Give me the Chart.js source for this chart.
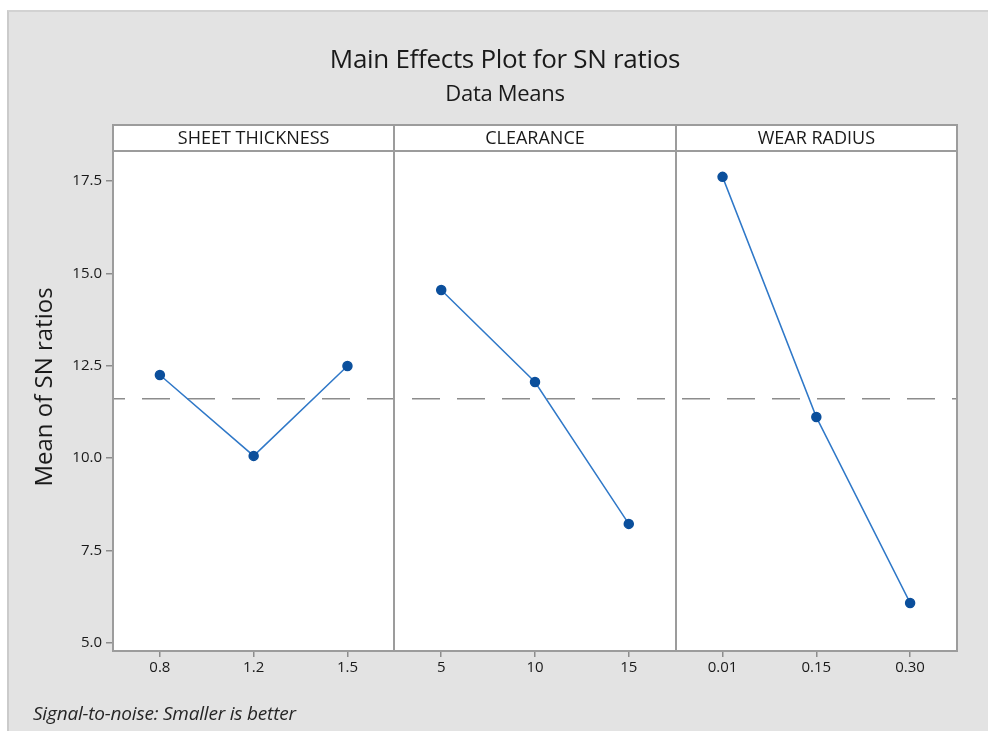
<!DOCTYPE html>
<html>
<head>
<meta charset="utf-8">
<script src="https://cdn.jsdelivr.net/npm/chart.js@4.4.1/dist/chart.umd.min.js"></script>
<style>
  body { margin: 0; background: #fff; width: 988px; height: 731px; overflow: hidden; font-family: "Open Sans", sans-serif; }
  #fondo { position: absolute; left: 7px; top: 10px; width: 981px; height: 721px; background: #e3e3e3; border-left: 2px solid #cbcbcb; border-top: 2px solid #d2d2d2; box-sizing: border-box; }
  #grafico { position: absolute; left: 0; top: 0; }
  .texto { position: absolute; color: #1a1a1a; white-space: nowrap; }
  #titulo { left: 0; width: 1010px; text-align: center; top: 40px; font-size: 26px; letter-spacing: -0.3px; }
  #subtitulo { left: 0; width: 1010px; text-align: center; top: 77px; font-size: 22px; letter-spacing: -0.3px; }
  #rodape { left: 33px; top: 700px; font-size: 19px; font-style: italic; color: #262626; letter-spacing: -0.2px; }
</style>
</head>
<body>
<div id="fondo"></div>
<canvas id="grafico" width="988" height="731"></canvas>
<div class="texto" id="titulo">Main Effects Plot for SN ratios</div>
<div class="texto" id="subtitulo">Data Means</div>
<div class="texto" id="rodape">Signal-to-noise: Smaller is better</div>
<script>
// fatores e niveis
const fatores = ["SHEET THICKNESS", "CLEARANCE", "WEAR RADIUS"];
const niveisEspessura = ["0.8", "1.2", "1.5"];
const niveisFolga = ["5", "10", "15"];
const niveisRaio = ["0.01", "0.15", "0.30"];

// medias das razoes SN
const snEspessura = [12.25, 10.06, 12.49];
const snFolga = [14.55, 12.06, 8.22];
const snRaio = [17.61, 11.11, 6.08];

const ticksY = [5.0, 7.5, 10.0, 12.5, 15.0, 17.5];
const tituloY = "Mean of SN ratios";

const niveis = [niveisEspessura, niveisFolga, niveisRaio];
const series = [snEspessura, snFolga, snRaio];
const rotulosX = niveis.flat();
const posicoesX = [];
niveis.forEach((lista, i) => lista.forEach((n, j) => posicoesX.push(i * 3 + j + 0.5)));

const todos = series.flat();
const mediaGeral = todos.reduce((a, b) => a + b, 0) / todos.length;

const corLinha = "#2f78c8";
const corPonto = "#0b4f9c";
const corBorda = "#9c9c9c";
const fonte = "'Open Sans', sans-serif";

const datasets = series.map((valores, i) => ({
    label: fatores[i],
    data: valores.map((v, j) => ({ x: i * 3 + j + 0.5, y: v })),
    borderColor: corLinha,
    borderWidth: 1.5,
    pointBackgroundColor: corPonto,
    pointBorderColor: corPonto,
    pointRadius: 4.5,
    pointStyle: "circle",
    tension: 0
}));
datasets.push({
    label: "media",
    data: [{ x: 0, y: mediaGeral }, { x: 9, y: mediaGeral }],
    borderColor: "#8c8c8c",
    borderWidth: 1.5,
    borderDash: [28, 17],
    borderDashOffset: 16,
    pointRadius: 0
});

// paineis: fundo branco, cabecalhos, bordas e titulo do eixo y
const paineis = {
    id: "paineis",
    beforeDatasetsDraw(chart) {
        const ctx = chart.ctx;
        const area = chart.chartArea;
        const x = chart.scales.x;
        const topoCab = 125;
        ctx.save();
        ctx.fillStyle = "#ffffff";
        ctx.fillRect(area.left, topoCab, area.right - area.left, area.bottom - topoCab);
        ctx.fillStyle = "#1a1a1a";
        ctx.font = "18px " + fonte;
        ctx.textAlign = "center";
        ctx.textBaseline = "middle";
        fatores.forEach((f, i) => {
            const a = x.getPixelForValue(i * 3);
            const b = x.getPixelForValue(i * 3 + 3);
            ctx.fillText(f, (a + b) / 2, (topoCab + area.top) / 2 + 1);
        });
        // titulo do eixo y
        ctx.translate(45, 387);
        ctx.rotate(-Math.PI / 2);
        ctx.font = "24px " + fonte;
        ctx.fillText(tituloY, 0, 0);
        ctx.restore();
    },
    afterDraw(chart) {
        const ctx = chart.ctx;
        const area = chart.chartArea;
        const x = chart.scales.x;
        const topoCab = 125;
        ctx.save();
        ctx.strokeStyle = corBorda;
        ctx.lineWidth = 2;
        ctx.strokeRect(area.left, topoCab, area.right - area.left, area.bottom - topoCab);
        ctx.beginPath();
        ctx.moveTo(area.left, area.top);
        ctx.lineTo(area.right, area.top);
        [3, 6].forEach(v => {
            const px = Math.round(x.getPixelForValue(v));
            ctx.moveTo(px, topoCab);
            ctx.lineTo(px, area.bottom);
        });
        ctx.stroke();
        ctx.restore();
    }
};

const ctx = document.getElementById("grafico").getContext("2d");
const grafico = new Chart(ctx, {
    type: "line",
    data: { datasets: datasets },
    options: {
        responsive: false,
        animation: false,
        devicePixelRatio: 1,
        layout: { padding: { top: 151, right: 31, left: 0, bottom: 0 } },
        plugins: {
            legend: { display: false },
            tooltip: { enabled: false }
        },
        scales: {
            x: {
                type: "linear",
                min: 0,
                max: 9,
                afterFit: s => { s.height = 80; },
                afterBuildTicks: s => { s.ticks = posicoesX.map(v => ({ value: v })); },
                ticks: {
                    callback: (v, i) => rotulosX[i],
                    font: { size: 15, family: fonte },
                    color: "#1a1a1a",
                    padding: 2,
                    maxRotation: 0,
                    autoSkip: false
                },
                grid: { drawOnChartArea: false, tickLength: 6, color: "#8c8c8c", lineWidth: 1.5 },
                border: { display: false }
            },
            y: {
                type: "linear",
                min: 4.78,
                max: 18.31,
                afterFit: s => { s.width = 113; },
                afterBuildTicks: s => { s.ticks = ticksY.map(v => ({ value: v })); },
                ticks: {
                    callback: v => v.toFixed(1),
                    font: { size: 15, family: fonte },
                    color: "#1a1a1a",
                    padding: 4
                },
                grid: { drawOnChartArea: false, tickLength: 7, color: "#8c8c8c", lineWidth: 1.5 },
                border: { display: false }
            }
        }
    },
    plugins: [paineis]
});
</script>
</body>
</html>
